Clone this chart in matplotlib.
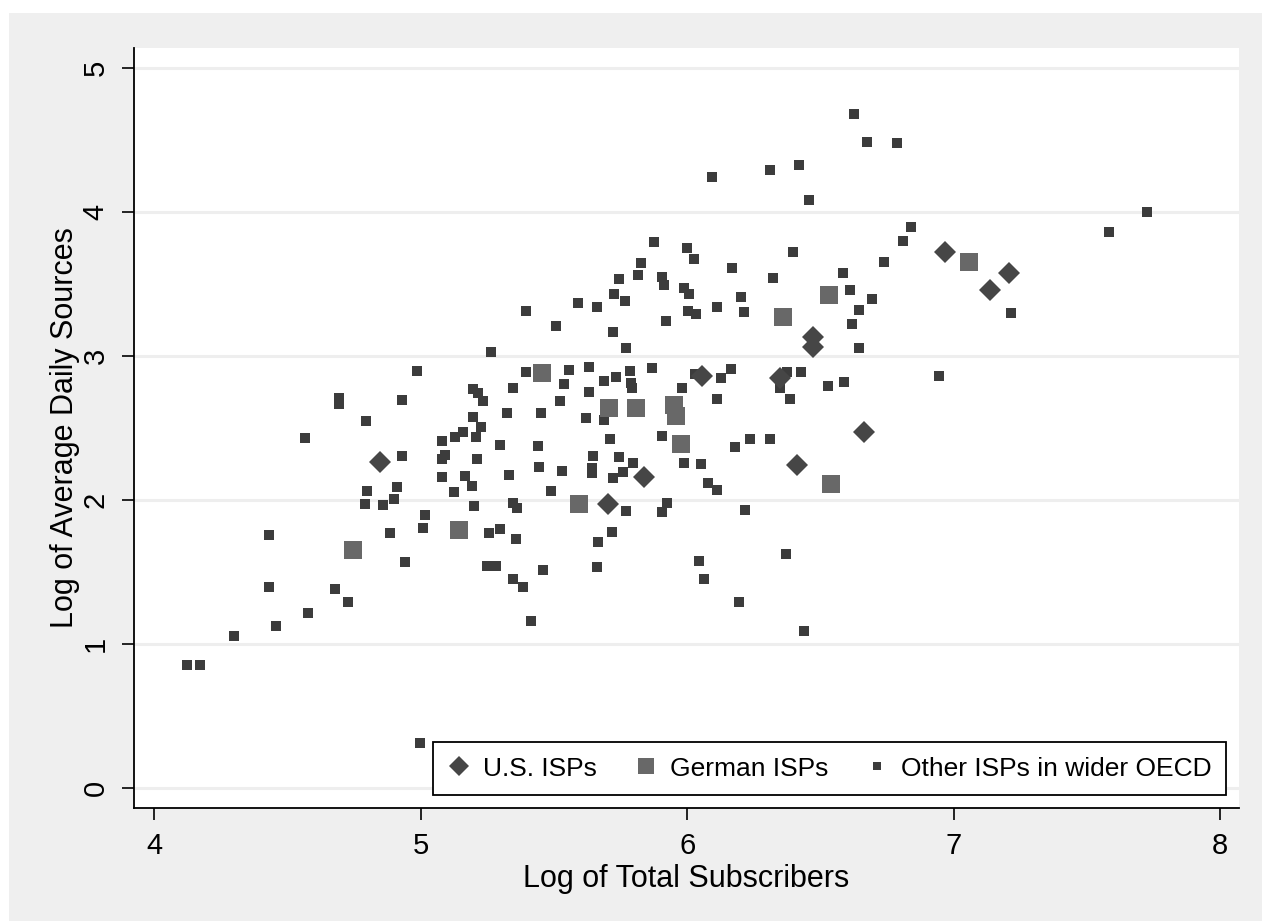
import matplotlib.pyplot as plt
from matplotlib.patches import Rectangle

plt.rcParams['font.family'] = ['Liberation Sans', 'DejaVu Sans']

# U.S. ISPs
us_x = [4.848, 5.704, 5.839, 6.056, 6.349, 6.413, 6.473, 6.473, 6.664, 6.968, 7.137, 7.208]
us_y = [2.264, 1.972, 2.160, 2.861, 2.847, 2.243, 3.132, 3.060, 2.472, 3.722, 3.458, 3.576]

# German ISPs
de_x = [4.747, 5.144, 5.456, 5.595, 5.707, 5.809, 5.951, 5.959, 5.977, 6.360, 6.533, 6.540, 7.058]
de_y = [1.653, 1.792, 2.882, 1.972, 2.639, 2.639, 2.660, 2.583, 2.389, 3.271, 3.424, 2.111, 3.653]

# other ISPs in the wider OECD
oth_x = [6.627, 6.675, 6.788, 6.094, 6.311, 6.420, 6.458, 7.726, 7.583, 6.841,
         6.811, 6.739, 6.398, 6.585, 6.612, 6.694, 6.645, 6.619, 6.645, 7.216,
         5.876, 6.000, 6.026, 5.827, 5.816, 5.745, 5.906, 5.914, 5.726, 5.767,
         5.989, 6.008, 5.396, 5.508, 5.591, 5.662, 5.722, 5.771, 5.921, 6.004,
         6.034, 6.113, 6.203, 6.214, 6.169, 6.323, 5.265, 4.987, 5.396, 4.694,
         4.694, 4.931, 4.795, 4.567, 4.931, 5.197, 5.216, 5.235, 5.347, 5.325,
         5.197, 5.227, 5.129, 5.159, 5.208, 5.081, 5.298, 5.092, 5.081, 5.212,
         5.081, 5.167, 5.193, 5.332, 5.126, 4.799, 4.912, 4.792, 4.859, 4.901,
         5.201, 5.347, 5.362, 5.017, 5.009, 4.886, 4.432, 5.257, 5.298, 5.358,
         4.942, 5.250, 5.283, 5.347, 5.385, 5.415, 4.432, 4.679, 4.728, 4.578,
         4.458, 4.300, 4.124, 4.173, 4.998, 5.557, 5.632, 5.689, 5.734, 5.786,
         5.790, 5.794, 5.869, 6.030, 6.128, 6.165, 5.981, 6.113, 6.349, 6.375,
         6.428, 6.386, 6.529, 6.589, 5.538, 5.632, 5.523, 5.452, 5.621, 5.689,
         5.711, 5.906, 6.180, 6.236, 6.311, 5.441, 5.647, 5.745, 5.797, 5.445,
         5.531, 5.644, 5.644, 5.722, 5.760, 5.989, 6.053, 6.079, 6.113, 5.490,
         5.771, 5.906, 5.925, 6.218, 5.719, 5.666, 5.460, 5.662, 6.045, 6.064,
         6.372, 6.195, 6.439, 6.946]
oth_y = [4.681, 4.486, 4.479, 4.243, 4.292, 4.326, 4.083, 4.000, 3.861, 3.896,
         3.799, 3.653, 3.722, 3.576, 3.458, 3.396, 3.319, 3.222, 3.056, 3.299,
         3.792, 3.750, 3.674, 3.646, 3.563, 3.535, 3.549, 3.493, 3.431, 3.382,
         3.472, 3.431, 3.313, 3.208, 3.368, 3.340, 3.167, 3.056, 3.243, 3.313,
         3.292, 3.340, 3.410, 3.306, 3.611, 3.542, 3.028, 2.896, 2.889, 2.708,
         2.667, 2.694, 2.549, 2.431, 2.306, 2.771, 2.743, 2.688, 2.778, 2.604,
         2.576, 2.507, 2.438, 2.472, 2.438, 2.410, 2.382, 2.313, 2.285, 2.285,
         2.160, 2.167, 2.097, 2.174, 2.056, 2.063, 2.090, 1.972, 1.965, 2.007,
         1.958, 1.979, 1.944, 1.896, 1.806, 1.771, 1.757, 1.771, 1.799, 1.729,
         1.569, 1.542, 1.542, 1.451, 1.396, 1.160, 1.396, 1.382, 1.292, 1.215,
         1.125, 1.056, 0.854, 0.854, 0.313, 2.903, 2.924, 2.826, 2.854, 2.896,
         2.813, 2.778, 2.917, 2.875, 2.847, 2.910, 2.778, 2.701, 2.778, 2.889,
         2.889, 2.701, 2.792, 2.819, 2.806, 2.750, 2.688, 2.604, 2.569, 2.556,
         2.424, 2.444, 2.368, 2.424, 2.424, 2.375, 2.306, 2.299, 2.257, 2.229,
         2.201, 2.222, 2.188, 2.153, 2.194, 2.257, 2.250, 2.118, 2.069, 2.063,
         1.924, 1.917, 1.979, 1.931, 1.778, 1.708, 1.514, 1.535, 1.576, 1.451,
         1.625, 1.292, 1.090, 2.861]

fig = plt.figure(figsize=(12.62, 9.21), dpi=100, facecolor='white')
# grey region behind the axes
bg = Rectangle((0.0071, 0), 1, 0.9859, transform=fig.transFigure,
               facecolor='#efefef', edgecolor='none', zorder=-10)
fig.add_artist(bg)

ax = fig.add_axes([0.1062, 0.1227, 0.8756, 0.8252])
ax.set_facecolor('white')

ax.plot(oth_x, oth_y, 's', ms=7.5, color='#3c3c3c', mew=0, label='Other ISPs in wider OECD', zorder=3)
ax.plot(de_x, de_y, 's', ms=13, color='#686868', mew=0, label='German ISPs', zorder=4)
ax.plot(us_x, us_y, 'D', ms=11.5, color='#464646', mew=0, label='U.S. ISPs', zorder=5)

ax.set_xlim(3.925, 8.07)
ax.set_ylim(-0.14, 5.14)
ax.set_xticks([4, 5, 6, 7, 8])
ax.set_yticks([0, 1, 2, 3, 4, 5])

for y in range(6):
    ax.axhline(y, color='#eeeeee', lw=2.2, zorder=1)

for side in ['top', 'right']:
    ax.spines[side].set_visible(False)
for side in ['left', 'bottom']:
    ax.spines[side].set_linewidth(1.3)

ax.tick_params(axis='both', direction='out', length=8.5, width=1.2, labelsize=21, pad=9)
for lbl in ax.get_yticklabels():
    lbl.set_rotation(90)
    lbl.set_va('center')

ax.set_xlabel('Log of Total Subscribers', fontsize=22, labelpad=3)
ax.set_ylabel('Log of Average Daily Sources', fontsize=22, labelpad=1)

# legend order: U.S., German, other
h, l = ax.get_legend_handles_labels()
order = [2, 1, 0]
leg = ax.legend([h[i] for i in order], [l[i] for i in order], loc='lower right',
                bbox_to_anchor=(0.988, 0.017), borderaxespad=0, ncol=3, fontsize=19,
                fancybox=False, framealpha=1, edgecolor='black',
                handlelength=0.9, handletextpad=0.45, columnspacing=1.4,
                borderpad=0.55, markerscale=0.85)
leg.get_frame().set_linewidth(1.3)

plt.savefig('out.png', dpi=100, facecolor=fig.get_facecolor())
